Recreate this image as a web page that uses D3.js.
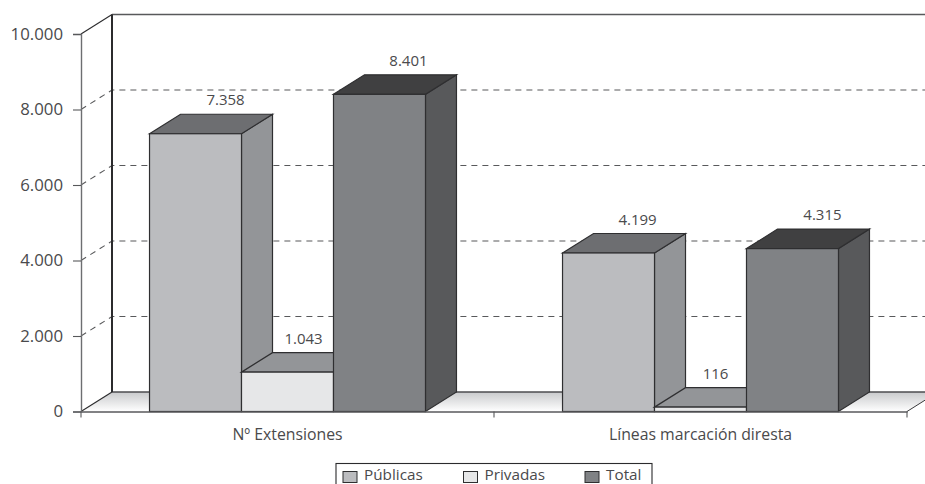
<!DOCTYPE html>
<html><head><meta charset="utf-8">
<script src="https://cdnjs.cloudflare.com/ajax/libs/d3/7.8.5/d3.min.js"></script>
<style>html,body{margin:0;padding:0;background:#fff;overflow:hidden}svg{display:block}
text{font-family:"Open Sans",sans-serif;fill:#4a4a4c}</style></head><body>
<svg id="c" width="925" height="484"></svg>
<script>
const categories = ["Nº Extensiones", "Líneas marcación diresta"];
const seriesNames = ["Públicas", "Privadas", "Total"];
const publicas = [7358, 4199];
const privadas = [1043, 116];
const total = [8401, 4315];
const labels = [["7.358","1.043","8.401"],["4.199","116","4.315"]];
const yTicks = [0,2000,4000,6000,8000,10000];
const yTickLabels = ["0","2.000","4.000","6.000","8.000","10.000"];
const frontColors = ["#bbbcbf","#e6e7e8","#808285"];
const sideColors = ["#939598","#939598","#58595b"];
const topColors = ["#6d6e71","#939598","#404041"];
const labelNudge = [[30,16,29],[29,15,30]];
const values = [publicas, privadas, total];

const dx = 31, dy = -19.5, left = 81, right = 907, y0 = 411.5, yTop = 34;
const svg = d3.select("#c");
const x0 = d3.scaleBand().domain(categories).range([left,right]);
const x1 = d3.scaleBand().domain(seriesNames).range([0,x0.bandwidth()]).paddingInner(0).paddingOuter(0.745);
const y = d3.scaleLinear().domain([0,10000]).range([y0,yTop]);
const line = "#2b2b2d";

const grad = svg.append("defs").append("linearGradient").attr("id","floor").attr("x1",0).attr("x2",0).attr("y1",0).attr("y2",1);
grad.append("stop").attr("offset",0).attr("stop-color","#c9cacc");
grad.append("stop").attr("offset",1).attr("stop-color","#ffffff");

// floor
svg.append("polygon").attr("points",[[left,y0],[left+dx,y0+dy],[right+dx,y0+dy],[right,y0]].join(" "))
  .attr("fill","url(#floor)").attr("stroke","none");
svg.append("line").attr("x1",left+dx).attr("x2",right+dx).attr("y1",y0+dy).attr("y2",y0+dy).attr("stroke","#4d4d4f").attr("stroke-width",1.3);
svg.append("line").attr("x1",right).attr("x2",right+dx).attr("y1",y0).attr("y2",y0+dy).attr("stroke","#3a3a3c").attr("stroke-width",1);

// gridlines
yTicks.filter(t=>t>0&&t<10000).forEach(t=>{
  svg.append("path").attr("d",`M${left},${y(t)}L${left+dx},${y(t)+dy}L${right+dx},${y(t)+dy}`)
    .attr("fill","none").attr("stroke","#58595b").attr("stroke-width",1.1).attr("stroke-dasharray","6 5");
});
// walls
svg.append("path").attr("d",`M${left},${y(10000)}L${left+dx},${y(10000)+dy}`).attr("stroke",line).attr("stroke-width",1.1).attr("fill","none");
svg.append("line").attr("x1",left+dx).attr("x2",right+dx).attr("y1",y(10000)+dy).attr("y2",y(10000)+dy).attr("stroke","#58595b").attr("stroke-width",1.3);
svg.append("line").attr("x1",left+dx).attr("x2",left+dx).attr("y1",y(10000)+dy).attr("y2",y0+dy).attr("stroke",line).attr("stroke-width",2);
svg.append("line").attr("x1",left).attr("x2",left+dx).attr("y1",y0).attr("y2",y0+dy).attr("stroke",line).attr("stroke-width",1.1);

// y axis
const yAxis = svg.append("g").attr("transform",`translate(${left},0)`)
  .call(d3.axisLeft(y).tickValues(yTicks).tickFormat((d,i)=>yTickLabels[i]).tickSize(8).tickPadding(10));
yAxis.select(".domain").attr("stroke","#6d6e71").attr("stroke-width",1.4);
yAxis.selectAll(".tick line").attr("stroke","#58595b").attr("stroke-width",1.1);
yAxis.selectAll("text").style("font-size","16.8px").attr("fill","#4a4a4c");

// bars
categories.forEach((c,ci)=>{
  seriesNames.forEach((s,si)=>{
    const v = values[si][ci], a = x0(c)+x1(s), b = a+x1.bandwidth(), t = y(v);
    const g = svg.append("g");
    const st = {stroke:"#2f2f31", w:1.2};
    g.append("polygon").attr("points",[[b,t],[b+dx,t+dy],[b+dx,y0+dy],[b,y0]].join(" ")).attr("fill",sideColors[si]).attr("stroke",st.stroke).attr("stroke-width",st.w);
    g.append("polygon").attr("points",[[a,t],[a+dx,t+dy],[b+dx,t+dy],[b,t]].join(" ")).attr("fill",topColors[si]).attr("stroke",st.stroke).attr("stroke-width",st.w);
    g.append("rect").attr("x",a).attr("y",t).attr("width",b-a).attr("height",y0-t).attr("fill",frontColors[si]).attr("stroke",st.stroke).attr("stroke-width",st.w);
  });
});
// data labels, on top of the bars
categories.forEach((c,ci)=>{
  seriesNames.forEach((s,si)=>{
    svg.append("text").attr("x",x0(c)+x1(s)+x1.bandwidth()/2+labelNudge[ci][si]).attr("y",y(values[si][ci])+dy-13)
      .attr("text-anchor","middle").attr("dominant-baseline","middle").style("font-size","15px").text(labels[ci][si]);
  });
});
// baseline and x axis
const xAxis = svg.append("g").attr("transform",`translate(0,${y0})`)
  .call(d3.axisBottom(x0).tickSize(0).tickPadding(17));
xAxis.select(".domain").attr("stroke","#58595b").attr("stroke-width",1.3);
xAxis.selectAll("text").style("font-size","15.8px").attr("fill","#4a4a4c");
[left,(left+right)/2,right].forEach(px=>svg.append("line").attr("x1",px).attr("x2",px).attr("y1",y0).attr("y2",y0+6).attr("stroke","#58595b").attr("stroke-width",1.1));

// legend
svg.append("rect").attr("x",336).attr("y",463.5).attr("width",316).attr("height",30).attr("fill","#fff").attr("stroke","#2b2b2d").attr("stroke-width",1.1);
const legendX = d3.scaleOrdinal().domain(seriesNames).range([343,463.5,585]);
seriesNames.forEach((s,i)=>{
  svg.append("rect").attr("x",legendX(s)).attr("y",471.5).attr("width",14).attr("height",11).attr("fill",frontColors[i]).attr("stroke","#2f2f31").attr("stroke-width",1);
  svg.append("text").attr("x",legendX(s)+21).attr("y",479.5).style("font-size","15.3px").text(s);
});
</script></body></html>
